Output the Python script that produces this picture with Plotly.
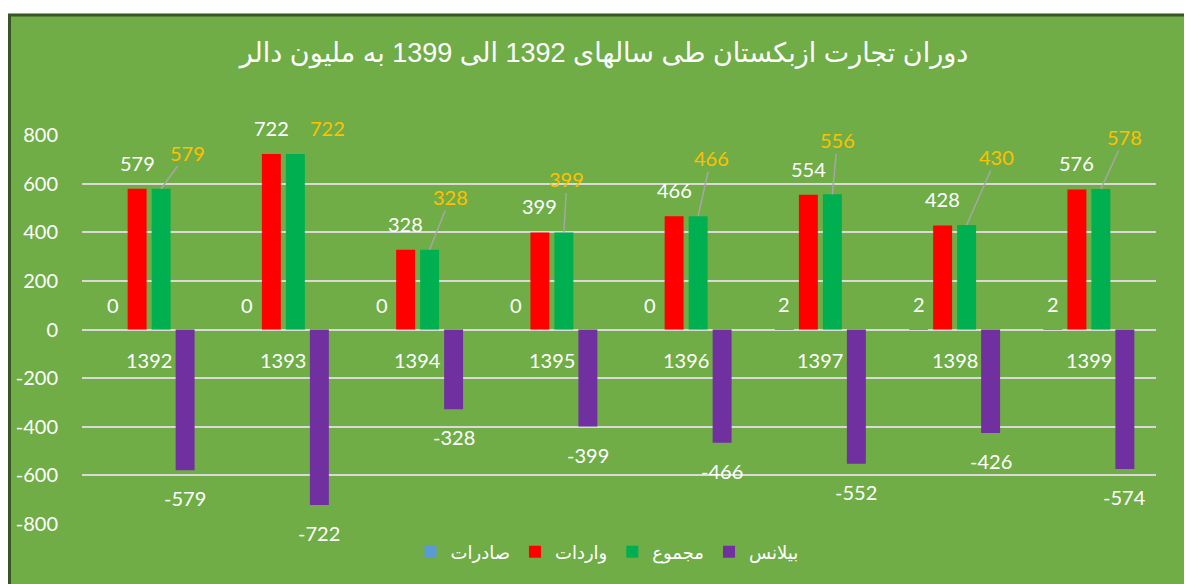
import plotly.graph_objects as go

# ---- data ----
years = ["1392", "1393", "1394", "1395", "1396", "1397", "1398", "1399"]
exports = [0, 0, 0, 0, 0, 2, 2, 2]            # صادرات
imports = [579, 722, 328, 399, 466, 554, 428, 576]  # واردات
totals = [579, 722, 328, 399, 466, 556, 430, 578]   # مجموع
balance = [-579, -722, -328, -399, -466, -552, -426, -574]  # بیلانس
series_names = ["صادرات", "واردات", "مجموع", "بیلانس"]
tick_vals = [-800, -600, -400, -200, 0, 200, 400, 600, 800]
title_text = "دوران تجارت ازبکستان طی سالهای 1392 الی 1399 به ملیون دالر"

# ---- style / layout ----
OFF = 8  # page body margin
W, H = 1192 - OFF, 584 - OFF
ML, MR, MT, MB = 82 - OFF, 36, 135 - OFF, 60
BG = "#70AD47"
BORDER = "#375623"
colors = ["#5B9BD5", "#FF0000", "#00B050", "#7030A0"]
NUM_FONT = "Lato, 'Open Sans', sans-serif"
AR_FONT = "'Liberation Sans', Arial, 'DejaVu Sans', sans-serif"
BARGAP = 0.285
GROUPGAP = 0.21

plot_w = W - ML - MR
plot_h = H - MT - MB
cat_w = plot_w / len(years)
slot = cat_w * (1 - BARGAP) / 4

# leader-label offsets (pixels) for the "total" series labels
tot_dx = [26, 32, 21, 3, 13, 5, 30, 24]
tot_dy = [-36, -26, -53, -53, -58, -54, -68, -52]
tot_arrow = [True, False, True, True, True, True, True, True]

fig = go.Figure()
for name, vals, col in zip(series_names, [exports, imports, totals, balance], colors):
    fig.add_trace(go.Bar(x=years, y=vals, name=name, marker_color=col,
                         marker_line_width=0))

ann = []
white = dict(color="white", size=20, family=NUM_FONT)
orange = dict(color="#FFC000", size=20, family=NUM_FONT)
for i, yr in enumerate(years):
    ann.append(dict(x=i, y=exports[i], text=str(exports[i]), showarrow=False,
                    xshift=-1.5 * slot, yshift=25, font=white))
    ann.append(dict(x=i, y=imports[i], text=str(imports[i]), showarrow=False,
                    xshift=-0.5 * slot, yshift=26, font=white))
    if tot_arrow[i]:
        ann.append(dict(x=i, y=totals[i], text=str(totals[i]), showarrow=True,
                        arrowhead=0, arrowwidth=1.5, arrowcolor="#A6A6A6",
                        standoff=0, ax=tot_dx[i], ay=tot_dy[i],
                        xshift=0.5 * slot, font=orange))
    else:
        ann.append(dict(x=i, y=totals[i], text=str(totals[i]), showarrow=False,
                        xshift=0.5 * slot + tot_dx[i], yshift=-tot_dy[i],
                        font=orange))
    ann.append(dict(x=i, y=balance[i], text=str(balance[i]), showarrow=False,
                    xshift=1.5 * slot, yshift=-28, font=white))
    ann.append(dict(x=i, y=0, text=yr, showarrow=False, yshift=-30, font=white))


def px_x(p):  # page pixel -> paper x
    return (p - OFF - ML) / plot_w


def px_y(p):  # page pixel -> paper y
    return (H - MB - (p - OFF)) / plot_h


shapes = [dict(type="rect", xref="paper", yref="paper",
               x0=px_x(9.5), x1=px_x(1192 + 20), y0=px_y(15), y1=px_y(584 + 20),
               fillcolor=BG, line=dict(color=BORDER, width=3), layer="below")]

fig.update_layout(
    width=W, height=H,
    autosize=False,
    margin=dict(l=ML, r=MR, t=MT, b=MB, autoexpand=False),
    paper_bgcolor="white",
    plot_bgcolor="rgba(0,0,0,0)",
    barmode="group", bargap=BARGAP, bargroupgap=GROUPGAP,
    title=dict(text=title_text, x=(604 - OFF) / W, xanchor="center",
               y=1 - (53 - OFF) / H, yanchor="middle",
               font=dict(color="white", size=27, family=AR_FONT)),
    xaxis=dict(type="category", showticklabels=False, showgrid=False,
               zeroline=False, showline=False, automargin=False,
               range=[-0.5, len(years) - 0.5]),
    yaxis=dict(range=[-800, 800], tickvals=tick_vals,
               ticktext=[str(v) for v in tick_vals],
               tickfont=dict(color="white", size=20, family=NUM_FONT),
               ticks="outside", ticklen=19, tickcolor="rgba(0,0,0,0)",
               showgrid=True, gridcolor="#D9D9D9", gridwidth=2,
               zeroline=True, zerolinecolor="#D9D9D9", zerolinewidth=2,
               showline=False, automargin=False),
    legend=dict(orientation="h", x=px_x(607), xanchor="center",
                y=px_y(552), yanchor="middle",
                font=dict(color="white", size=18, family=AR_FONT),
                bgcolor="rgba(0,0,0,0)"),
    annotations=ann,
    shapes=shapes,
    showlegend=True,
)

fig.write_html("out.html")
